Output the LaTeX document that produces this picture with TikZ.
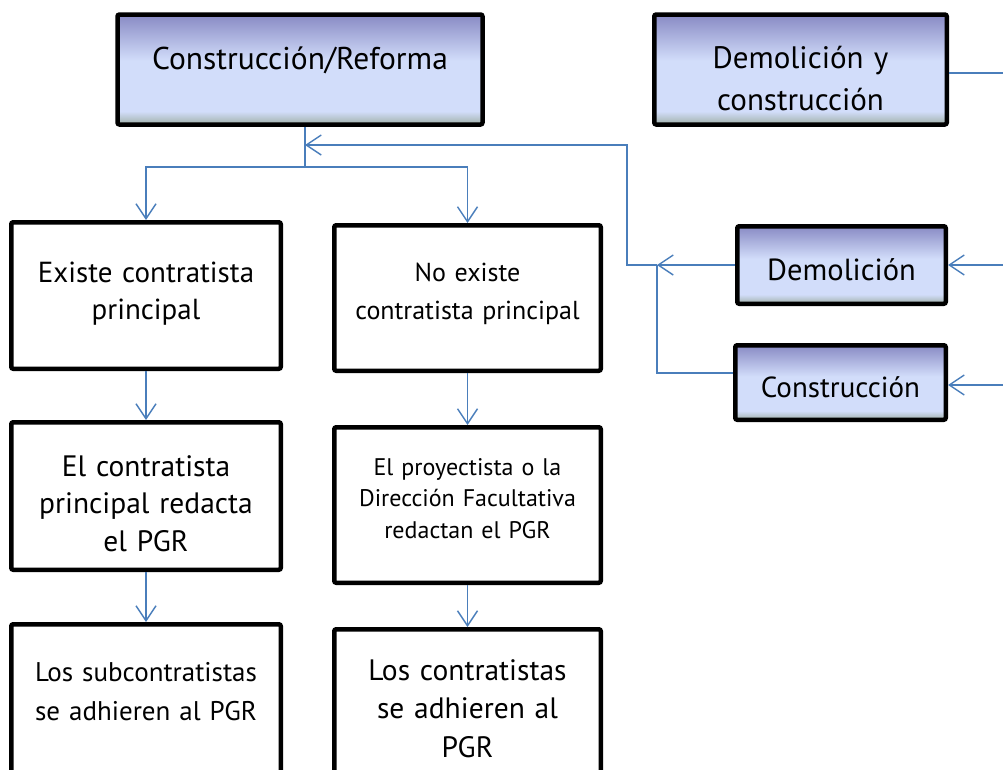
\documentclass[tikz,border=0pt]{standalone}
\usepackage{fontspec}
\setmainfont{PT Sans}
\usetikzlibrary{positioning,arrows.meta}

\definecolor{connblue}{RGB}{74,126,187}
\definecolor{shtop}{RGB}{136,138,196}
\definecolor{shlight}{RGB}{210,221,250}
\definecolor{shbot}{RGB}{160,176,168}
\pgfdeclareverticalshading{boxshade}{100bp}{color(0bp)=(shbot); color(25bp)=(shbot); color(31bp)=(shlight); color(54bp)=(shlight); color(75bp)=(shtop); color(100bp)=(shtop)}

\newcommand{\fs}[2]{\fontsize{#1}{#2}\selectfont}

\begin{document}
\begin{tikzpicture}[
    x=1pt, y=-1pt,
    wbox/.style={draw, line width=4.5pt, rounded corners=2pt, inner sep=0pt, align=center, fill=white},
    sbox/.style={wbox, shading=boxshade},
    conn/.style={draw=connblue, line width=1.4pt},
    arr/.style={conn, -{Straight Barb[length=15pt, width=20pt]}}
]
    \useasboundingbox (0,0) rectangle (1003,769);

    % top row
    \node[sbox, minimum width=365pt, minimum height=110pt, text width=340pt, text height=0pt, text depth=0pt, font=\fs{31.5}{40}] (cr) at (300,69.5) {Construcción/Reforma};
    \node[sbox, minimum width=292.5pt, minimum height=110pt, text width=280pt, text height=0pt, text depth=3pt, font=\fs{31}{42}] (dyc) at (800.5,69.5) {Demolición y\\construcción};
    \node[sbox, minimum width=208.5pt, minimum height=77.5pt, text width=200pt, text height=30pt, text depth=0pt, font=\fs{30.5}{40}] (dem) at (841.5,265) {Demolición};
    \node[sbox, minimum width=210.5pt, minimum height=74.5pt, text width=200pt, text height=29pt, text depth=0pt, font=\fs{29}{38}] (cons) at (840.5,382.5) {Construcción};

    % two columns
    \node[wbox, minimum width=269.5pt, minimum height=146.5pt, text width=250pt, text height=0pt, text depth=27pt, font=\fs{29}{37}] (exi) at (146,295.5) {Existe contratista\\principal};
    \node[wbox, minimum width=266.5pt, minimum height=145.5pt, text width=250pt, text height=0pt, text depth=34pt, font=\fs{26}{38}] (noex) at (467.5,298) {No existe\\contratista principal};
    \node[wbox, below=49pt of exi, minimum width=269.5pt, minimum height=147.5pt, text width=250pt, text height=0pt, text depth=40pt, font=\fs{29.5}{37.5}] (elc) {El contratista\\principal redacta\\el PGR};
    \node[wbox, below=52pt of noex, minimum width=266.5pt, minimum height=155.5pt, text width=250pt, text height=0pt, text depth=60pt, font=\fs{24}{31.5}] (elp) {El proyectista o la\\Dirección Facultativa\\redactan el PGR};
    \node[wbox, below=50pt of elc, minimum width=269.5pt, minimum height=155.5pt, text width=250pt, text height=0pt, text depth=42pt, font=\fs{27}{39}] (loss) {Los subcontratistas\\se adhieren al PGR};
    \node[wbox, below=42pt of elp, minimum width=266.5pt, minimum height=155.5pt, text width=250pt, text height=0pt, text depth=54pt, font=\fs{29.5}{38.5}] (losc) {Los contratistas\\se adhieren al\\PGR};

    \coordinate (split) at (305,167);
    \coordinate (merge) at (305,145);
    \coordinate (j1) at (627,265);
    \coordinate (j2) at (657,265);
    \coordinate (rin1) at (1010,265);
    \coordinate (rin2) at (1010,385);
    \coordinate (rout) at (1010,73);

    \draw[conn] (cr.south -| split) -- (split);
    \draw[arr] (split) -| (exi.north);
    \draw[arr] (split) -| (noex.north);
    \draw[arr] (exi) -- (elc);
    \draw[arr] (elc) -- (loss);
    \draw[arr] (noex) -- (elp);
    \draw[arr] (elp) -- (losc);
    \draw[arr] (dem.west) -- (j2);
    \draw[arr] (j2) -- (j1) |- (merge);
    \draw[conn] ([yshift=9.5pt]cons.west) -| (j2);
    \draw[arr] (rin1) -- (dem.east);
    \draw[arr] (rin2) -- ([yshift=-2.5pt]cons.east);
    \draw[conn] ([yshift=-3.5pt]dyc.east) -- (rout);
\end{tikzpicture}
\end{document}
